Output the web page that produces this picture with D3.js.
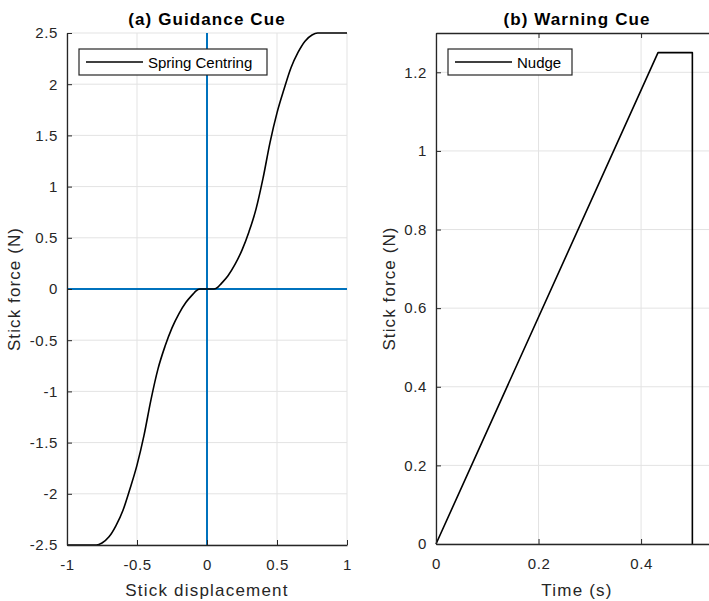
<!DOCTYPE html>
<html><head><meta charset="utf-8">
<script src="https://cdn.jsdelivr.net/npm/d3@7/dist/d3.min.js"></script>
<style>
body{margin:0;background:#fff;}
svg{display:block;font-family:"Liberation Sans",Arial,sans-serif;}
</style></head>
<body><svg id="c" width="709" height="601"></svg>
<script>
// ---- data ----
const springX = [-1, -0.9, -0.79, -0.75, -0.7, -0.65, -0.6, -0.55, -0.5, -0.45, -0.4, -0.35, -0.3, -0.25, -0.2, -0.15, -0.1, -0.08, -0.05, 0, 0.05, 0.08, 0.1, 0.15, 0.2, 0.25, 0.3, 0.35, 0.4, 0.45, 0.5, 0.55, 0.6, 0.65, 0.7, 0.75, 0.79, 0.9, 1];
const springY = [-2.5, -2.5, -2.5, -2.48, -2.42, -2.31, -2.16, -1.95, -1.72, -1.43, -1.08, -0.78, -0.56, -0.38, -0.24, -0.13, -0.05, -0.02, 0, 0, 0, 0.02, 0.05, 0.13, 0.24, 0.38, 0.56, 0.78, 1.08, 1.43, 1.72, 1.95, 2.16, 2.31, 2.42, 2.48, 2.5, 2.5, 2.5];
const nudgeT = [0, 0.433, 0.5, 0.5];
const nudgeF = [0, 1.25, 1.25, 0];
const leftXTicks = [-1, -0.5, 0, 0.5, 1];
const leftYTicks = [-2.5, -2, -1.5, -1, -0.5, 0, 0.5, 1, 1.5, 2, 2.5];
const rightXTicks = [0, 0.2, 0.4];
const rightYTicks = [0, 0.2, 0.4, 0.6, 0.8, 1, 1.2];
const titles = ["(a) Guidance Cue", "(b) Warning Cue"];
const xLabels = ["Stick displacement", "Time (s)"];
const yLabel = "Stick force (N)";
const legends = ["Spring Centring", "Nudge"];

const svg = d3.select("#c");
const AX = "#262626", GRID = "#e3e3e3", BLUE = "#0072BD";
const fmt = d => String(d);

function panel(o){
  const g = svg.append("g");
  const x = d3.scaleLinear().domain(o.xd).range(o.xr);
  const y = d3.scaleLinear().domain(o.yd).range(o.yr);
  // grid
  g.append("g").selectAll("line").data(o.xt).join("line")
    .attr("x1", d=>x(d)).attr("x2", d=>x(d)).attr("y1", o.yr[0]).attr("y2", o.yr[1])
    .attr("stroke", GRID).attr("stroke-width", 1);
  g.append("g").selectAll("line").data(o.yt).join("line")
    .attr("y1", d=>y(d)).attr("y2", d=>y(d)).attr("x1", o.xr[0]).attr("x2", o.xr[1])
    .attr("stroke", GRID).attr("stroke-width", 1);
  if (o.extra) o.extra(g, x, y);
  // data line
  const line = d3.line().x(d=>x(d[0])).y(d=>y(d[1])).curve(o.curve || d3.curveLinear);
  g.append("path").datum(o.px.map((v,i)=>[v, o.py[i]]))
    .attr("d", line).attr("fill","none").attr("stroke","#000").attr("stroke-width",1.6)
    .attr("stroke-linejoin","round");
  // axes
  const ax = d3.axisBottom(x).tickValues(o.xt).tickFormat(fmt).tickSizeInner(-5).tickSizeOuter(0).tickPadding(14);
  const gx = g.append("g").attr("transform", `translate(0,${o.yr[0]})`).call(ax);
  const ay = d3.axisLeft(y).tickValues(o.yt).tickFormat(fmt).tickSizeInner(-5).tickSizeOuter(0).tickPadding(9);
  const gy = g.append("g").attr("transform", `translate(${o.xr[0]},0)`).call(ay);
  if (o.box){
    const at = d3.axisTop(x).tickValues(o.xt).tickFormat("").tickSizeInner(-5).tickSizeOuter(0);
    g.append("g").attr("transform", `translate(0,${o.yr[1]})`).call(at);
  }
  g.selectAll(".domain").attr("stroke", AX).attr("stroke-width", 1.3);
  g.selectAll(".tick line").attr("stroke", AX);
  g.selectAll(".tick text").attr("fill", AX).style("font-size","15px").style("letter-spacing","0.6px")
    .style("font-family",'"Liberation Sans",Arial,sans-serif');
  // title
  const cx = (x(o.xd[0]) + x(o.xd[1]))/2;
  g.append("text").attr("x", cx).attr("y", 25).attr("text-anchor","middle")
    .style("font-weight","bold").style("font-size","17px").style("letter-spacing","1.1px").attr("fill","#000").text(o.title);
  g.append("text").attr("x", cx).attr("y", 596).attr("text-anchor","middle")
    .style("font-size","17px").style("letter-spacing","1.2px").attr("fill",AX).text(o.xl);
  const cy = (o.yr[0]+o.yr[1])/2;
  g.append("text").attr("transform", `translate(${o.ylx},${cy}) rotate(-90)`).attr("text-anchor","middle")
    .style("font-size","17px").style("letter-spacing","1.1px").attr("fill",AX).text(yLabel);
  // legend
  const L = o.leg;
  g.append("rect").attr("x", L.x).attr("y", L.y).attr("width", L.w).attr("height", 26)
    .attr("fill","#fff").attr("stroke","#262626").attr("stroke-width",1.2);
  g.append("line").attr("x1", L.x+7).attr("x2", L.x+64).attr("y1", L.y+13).attr("y2", L.y+13)
    .attr("stroke","#000").attr("stroke-width",1.5);
  g.append("text").attr("x", L.x+69).attr("y", L.y+18.5).style("font-size","15px").attr("fill","#000").text(L.t);
}

panel({
  xd:[-1,1], xr:[67,347], yd:[-2.5,2.5], yr:[545,33],
  xt:leftXTicks, yt:leftYTicks, px:springX, py:springY, curve:d3.curveMonotoneX,
  title:titles[0], xl:xLabels[0], ylx:20, box:false,
  leg:{x:79, y:49, w:188, t:legends[0]},
  extra:(g,x,y)=>{
    g.append("line").attr("x1", x(0)).attr("x2", x(0)).attr("y1", y(-2.5)).attr("y2", y(2.5))
      .attr("stroke", BLUE).attr("stroke-width", 2);
    g.append("line").attr("x1", x(-1)).attr("x2", x(1)).attr("y1", y(0)).attr("y2", y(0))
      .attr("stroke", BLUE).attr("stroke-width", 2);
  }
});
panel({
  xd:[0,0.55], xr:[436,718], yd:[0,1.3], yr:[544,33],
  xt:rightXTicks, yt:rightYTicks, px:nudgeT, py:nudgeF,
  title:titles[1], xl:xLabels[1], ylx:395, box:true,
  leg:{x:448, y:49, w:124, t:legends[1]}
});
</script></body></html>
